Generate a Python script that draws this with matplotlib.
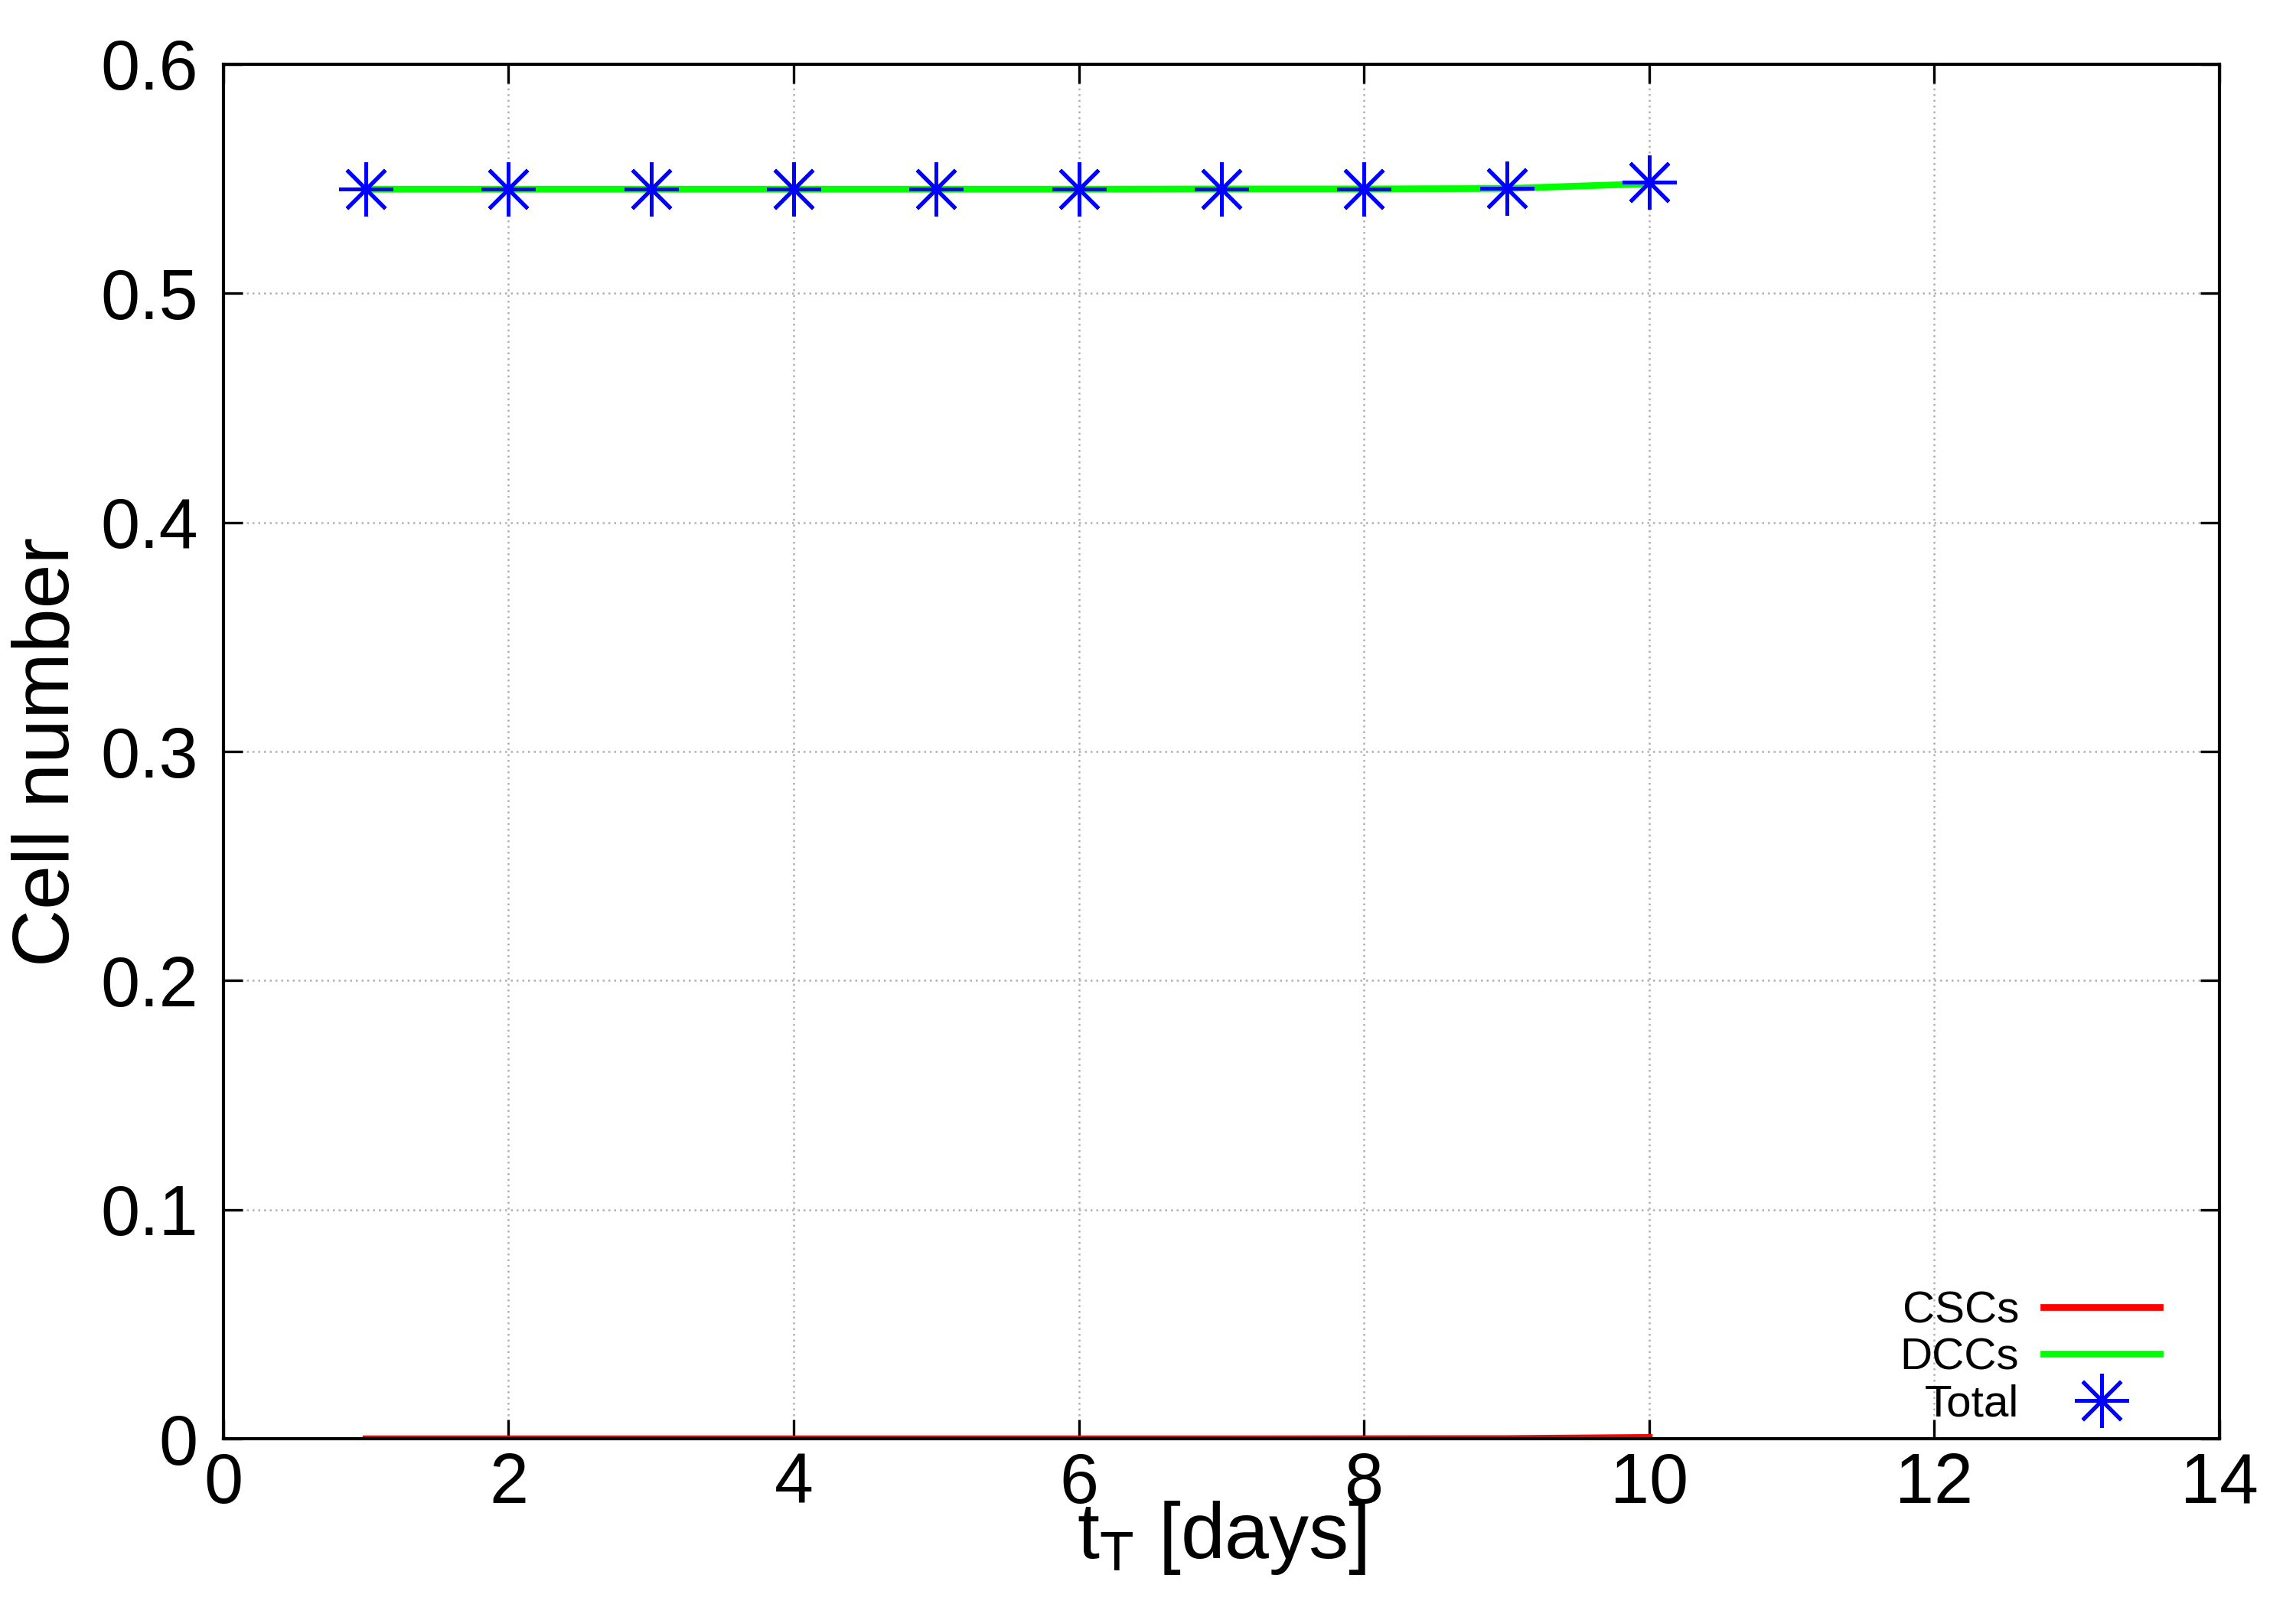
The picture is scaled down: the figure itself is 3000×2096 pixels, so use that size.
import matplotlib
matplotlib.use('Agg')
import matplotlib.pyplot as plt

plt.rcParams['font.family'] = ['Liberation Sans', 'DejaVu Sans']
plt.rcParams['mathtext.fontset'] = 'custom'
plt.rcParams['mathtext.rm'] = 'Liberation Sans'
plt.rcParams['mathtext.it'] = 'Liberation Sans'

# days of treatment
giorni = [1, 2, 3, 4, 5, 6, 7, 8, 9, 10]
# cell numbers
cscs = [0.0, 0.0, 0.0, 0.0, 0.0, 0.0, 0.0, 0.00005, 0.0001, 0.0006]
dccs = [0.5454, 0.5454, 0.5454, 0.5454, 0.5454, 0.5454, 0.5455, 0.5455, 0.5457, 0.5478]
totale = [0.5454, 0.5454, 0.5454, 0.5454, 0.5454, 0.5454, 0.5455, 0.5455, 0.5458, 0.5484]

fig = plt.figure(figsize=(10, 6.987), dpi=300)
ax = fig.add_axes([0.0973, 0.103, 0.8694, 0.857])

ax.plot(giorni, cscs, color='#ff0000', lw=2.1, label='CSCs')
ax.plot(giorni, dccs, color='#00ff00', lw=2.1, label='DCCs')
ax.plot(giorni, totale, ls='none', marker=(8, 2, 0), ms=17, mew=1.2,
        color='#0000ff', label='Total')

ax.set_xlim(0, 14)
ax.set_ylim(0, 0.6)
ax.set_xticks(range(0, 15, 2))
ax.set_yticks([0, 0.1, 0.2, 0.3, 0.4, 0.5, 0.6])
ax.set_yticklabels(['0', '0.1', '0.2', '0.3', '0.4', '0.5', '0.6'])
ax.tick_params(direction='in', top=True, right=True, labelsize=22,
               length=6, width=0.8)
ax.tick_params(axis='x', pad=4)
ax.tick_params(axis='y', pad=8)
for s in ax.spines.values():
    s.set_linewidth(1.0)
ax.grid(True, color='#b0b0b0', ls=(0, (1, 2)), lw=0.6)

ax.set_xlabel(r'$\mathregular{t_T}$ [days]', fontsize=25)
ax.set_ylabel('Cell number', fontsize=25)
ax.xaxis.set_label_coords(0.5, -0.072)
ax.xaxis.label.set_va('center')
ax.yaxis.set_label_coords(-0.088, 0.5)
ax.yaxis.label.set_va('center')

ax.legend(loc='lower right', bbox_to_anchor=(0.979, -0.003), frameon=False,
          markerfirst=False, fontsize=14, handlelength=2.6,
          labelspacing=0.12, handletextpad=0.55, borderaxespad=0)

fig.savefig('out.png', dpi=300)
